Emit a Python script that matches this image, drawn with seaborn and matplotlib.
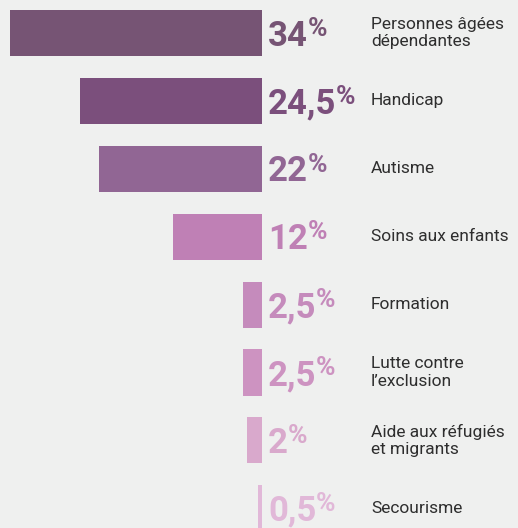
import matplotlib
matplotlib.use("Agg")
import matplotlib.pyplot as plt
import seaborn as sns
import pandas as pd

# data
categories = ["Personnes âgées\ndépendantes", "Handicap", "Autisme", "Soins aux enfants",
              "Formation", "Lutte contre\nl’exclusion", "Aide aux réfugiés\net migrants", "Secourisme"]
values = [34, 24.5, 22, 12, 2.5, 2.5, 2, 0.5]
value_labels = ["34", "24,5", "22", "12", "2,5", "2,5", "2", "0,5"]
colors = ["#765474", "#7b4f7c", "#916694", "#bf80b5", "#c58bbc", "#cd93c1", "#d9a9cc", "#e1b8d8"]

bg = "#eff0ef"
df = pd.DataFrame({"cat": categories, "val": values})

sns.set_style("white")
plt.rcParams["font.family"] = ["Roboto", "DejaVu Sans"]

fig = plt.figure(figsize=(5.18, 5.28), dpi=100, facecolor=bg)
ax = fig.add_axes([0, 0, 262 / 518, 1])
ax.set_facecolor(bg)

sns.barplot(data=df, x="val", y="cat", hue="cat", palette=colors, orient="h",
            saturation=1, width=0.68, legend=False, linewidth=0, ax=ax)

ax.set_xlim(34 * 262 / 252, 0)
ax.set_ylim(7.29, -0.486)
ax.axis("off")

# percentage labels + category names
for i, (lab, cat, col) in enumerate(zip(value_labels, categories, colors)):
    num = ax.annotate(lab, xy=(0, i), xytext=(4.3, -9), textcoords="offset points",
                      ha="left", va="baseline", fontsize=25, fontweight="bold",
                      color=col, annotation_clip=False)
    ax.annotate("%", xy=(1, 1), xycoords=num, xytext=(-0.3, 2), textcoords="offset points",
                ha="left", va="top", fontsize=19, fontweight="bold", color=col,
                annotation_clip=False)
    ax.annotate(cat, xy=(0, i), xytext=(109 * 0.72, 0), textcoords="offset points",
                ha="left", va="center", fontsize=12.5, color="#2e2e2e",
                linespacing=1.2, annotation_clip=False)

fig.savefig("out.png", dpi=100, facecolor=bg)
